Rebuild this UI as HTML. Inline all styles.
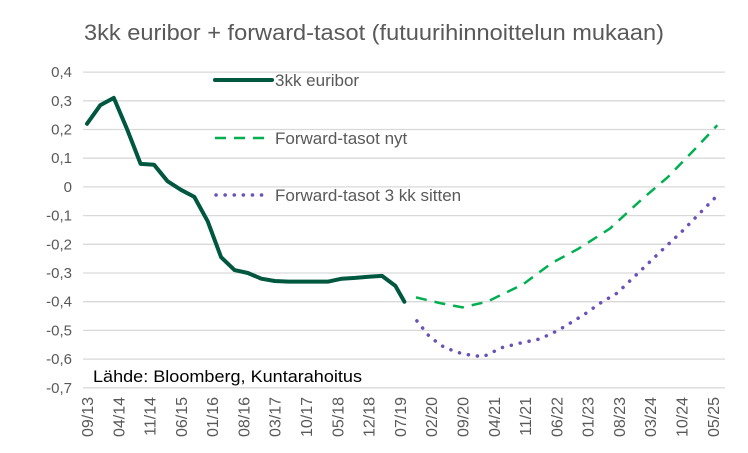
<!DOCTYPE html>
<html><head><meta charset="utf-8"><style>
body{margin:0;background:#fff;}
svg{font-family:"Liberation Sans",sans-serif;}
</style></head><body>
<svg width="748" height="448" viewBox="0 0 748 448">
<text x="84" y="40" font-size="22" fill="#595959" textLength="580" lengthAdjust="spacingAndGlyphs">3kk euribor + forward-tasot (futuurihinnoittelun mukaan)</text>
<g id="grid"></g><g id="yt"></g><g id="xt"></g><g id="series"></g>
<g>
<line x1="215" y1="80" x2="272" y2="80" stroke="#00573F" stroke-width="4" stroke-linecap="round"/>
<text x="275" y="86" font-size="17" fill="#595959">3kk euribor</text>
<line x1="215" y1="138" x2="270" y2="138" stroke="#00B050" stroke-width="2.5" stroke-dasharray="11,8"/>
<text x="275" y="144" font-size="17" fill="#595959">Forward-tasot nyt</text>
<line x1="216" y1="195" x2="270" y2="195" stroke="#6A52B8" stroke-width="3.5" stroke-dasharray="0.1,9" stroke-linecap="round"/>
<text x="275" y="201" font-size="17" fill="#595959">Forward-tasot 3 kk sitten</text>
</g>
<text x="93" y="382" font-size="17" fill="#000" textLength="269" lengthAdjust="spacingAndGlyphs">Lähde: Bloomberg, Kuntarahoitus</text>
</svg>
<script>
const yTicks=[0.4,0.3,0.2,0.1,0,-0.1,-0.2,-0.3,-0.4,-0.5,-0.6,-0.7];
const xLabels=["09/13","04/14","11/14","06/15","01/16","08/16","03/17","10/17","05/18","12/18","07/19","02/20","09/20","04/21","11/21","06/22","01/23","08/23","03/24","10/24","05/25"];
const euriborMonths=[0,3,6,9,12,15,18,21,24,27,30,33,36,39,42,45,48,51,54,57,60,63,66,69,71];
const euriborValues=[0.22,0.285,0.31,0.2,0.08,0.077,0.02,-0.01,-0.035,-0.12,-0.245,-0.29,-0.3,-0.32,-0.328,-0.33,-0.33,-0.33,-0.33,-0.32,-0.317,-0.313,-0.31,-0.345,-0.4];
const fwdMonths=[73.6,79,84,89.5,97.5,104,110,117,124,130,136.5,141];
const fwdValues=[-0.385,-0.405,-0.42,-0.4,-0.34,-0.265,-0.215,-0.145,-0.045,0.035,0.14,0.215];
const fwd3Months=[73.8,76.7,80,84,88.6,92.8,97.3,101.3,105.4,111,114.8,118.6,123.3,128.2,133.1,137.8,141];
const fwd3Values=[-0.467,-0.523,-0.56,-0.582,-0.592,-0.56,-0.543,-0.53,-0.5,-0.447,-0.405,-0.37,-0.3,-0.227,-0.155,-0.08,-0.03];
const NS="http://www.w3.org/2000/svg";
const x=m=>87+m*4.47;
const y=v=>186.9-v*287;
function mk(t,a,p){const e=document.createElementNS(NS,t);for(const k in a)e.setAttribute(k,a[k]);p.appendChild(e);return e;}
const grid=document.getElementById('grid'),yt=document.getElementById('yt'),xt=document.getElementById('xt'),ser=document.getElementById('series');
yTicks.forEach(v=>{
 const l=mk('line',{x1:83,x2:725,y1:y(v),y2:y(v),stroke:'#d9d9d9','stroke-width':1.3},grid);
 
 
 const t=mk('text',{x:72,y:y(v)+5,'font-size':15,fill:'#595959','text-anchor':'end'},yt);
 t.textContent=v===0?'0':v.toFixed(1).replace('.',',');
 
 
});
xLabels.forEach((s,i)=>{
 const xx=x(i*7)+6;
 const t=mk('text',{x:0,y:0,'font-size':16,fill:'#595959','text-anchor':'end',transform:`translate(${xx},397) rotate(-90)`},xt);
 t.textContent=s;
 
 
});
function pts(ms,vs){return ms.map((m,i)=>x(m).toFixed(1)+','+y(vs[i]).toFixed(1)).join(' ');}
const p1=mk('polyline',{points:pts(euriborMonths,euriborValues),fill:'none',stroke:'#00573F','stroke-width':4,'stroke-linejoin':'round','stroke-linecap':'round'},ser);


const p2=mk('polyline',{points:pts(fwdMonths,fwdValues),fill:'none',stroke:'#00B050','stroke-width':2.5,'stroke-dasharray':'11,8'},ser);


const p3=mk('polyline',{points:pts(fwd3Months,fwd3Values),fill:'none',stroke:'#6A52B8','stroke-width':3.5,'stroke-dasharray':'0.1,9','stroke-linecap':'round'},ser);


</script>
</body></html>
